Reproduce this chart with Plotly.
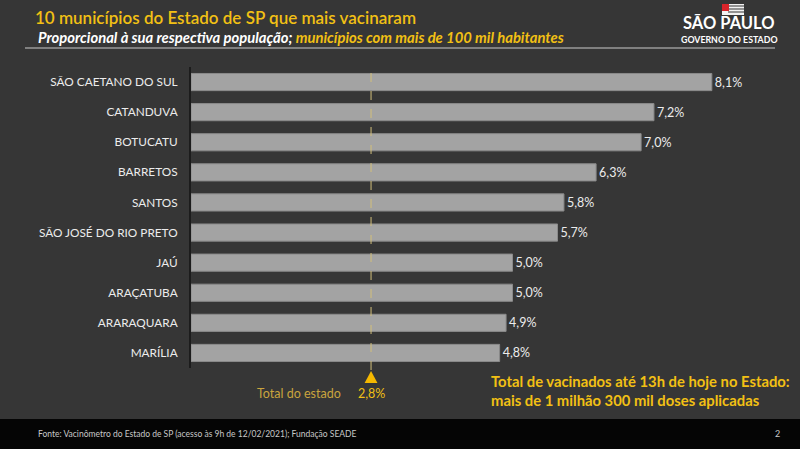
import plotly.graph_objects as go

municipios = ["SÃO CAETANO DO SUL", "CATANDUVA", "BOTUCATU", "BARRETOS", "SANTOS",
              "SÃO JOSÉ DO RIO PRETO", "JAÚ", "ARAÇATUBA", "ARARAQUARA", "MARÍLIA"]
percentuais = [8.1, 7.2, 7.0, 6.3, 5.8, 5.7, 5.0, 5.0, 4.9, 4.8]
total_estado = 2.8

W, H = 800, 449
ML, MR, MT, MB = 191, 20, 67, 81
PW, PH = W - ML - MR, H - MT - MB
X_MAX = PW / 64.3

def px(x):
    return (x - ML) / PW

def py(y):
    return (H - MB - y) / PH

def fmt(v):
    return f"{v:.1f}".replace(".", ",") + "%"

GOLD = "#f2c014"
FONT = "Lato"

fig = go.Figure()
fig.add_trace(go.Bar(
    y=municipios, x=percentuais, orientation="h",
    marker=dict(color="#a3a3a3", line=dict(color="#8a8a8a", width=1)),
    text=[fmt(v) for v in percentuais], textposition="outside",
    textfont=dict(color="#ececec", size=12.5, family=FONT),
    cliponaxis=False, hoverinfo="skip",
))

shapes = [
    # footer strip
    dict(type="rect", xref="paper", yref="paper", x0=px(0), x1=px(W), y0=py(449), y1=py(419),
         fillcolor="#050505", line=dict(width=0), layer="below"),
    # header rule
    dict(type="line", xref="paper", yref="paper", x0=px(25), x1=px(775), y0=py(48), y1=py(48),
         line=dict(color="#9a9a9a", width=1.5)),
    # state total dashed line
    dict(type="line", xref="x", yref="paper", x0=total_estado, x1=total_estado,
         y0=py(370), y1=1, line=dict(color="#d2bf7a", width=1, dash="dash")),
    # triangle marker
    dict(type="path", xref="x", yref="paper",
         path=f"M {total_estado - 0.1} {py(383)} L {total_estado + 0.1} {py(383)} L {total_estado} {py(371)} Z",
         fillcolor="#f5b800", line=dict(width=0)),
    # logo flag
    dict(type="rect", xref="paper", yref="paper", x0=px(722), x1=px(744), y0=py(15), y1=py(4),
         fillcolor="#f2f2f2", line=dict(width=0)),
]
for yy in [6, 9, 12]:
    shapes.append(dict(type="line", xref="paper", yref="paper", x0=px(728), x1=px(744),
                       y0=py(yy), y1=py(yy), line=dict(color="#333333", width=1)))
shapes.append(dict(type="rect", xref="paper", yref="paper", x0=px(722), x1=px(729), y0=py(11), y1=py(4),
                   fillcolor="#d8242a", line=dict(width=0)))

annotations = [
    dict(x=px(33), y=py(18), xref="paper", yref="paper", xanchor="left", yanchor="middle",
         text="10 municípios do Estado de SP que mais vacinaram",
         font=dict(color=GOLD, size=17, family=FONT, weight=600), showarrow=False),
    dict(x=px(36), y=py(37), xref="paper", yref="paper", xanchor="left", yanchor="middle",
         text="<b><i>Proporcional à sua respectiva população; </i></b><b><i><span style='color:#f2c014'>municípios com mais de 100 mil habitantes</span></i></b>",
         font=dict(color="#ffffff", size=14.8, family=FONT), showarrow=False),
    dict(x=px(729), y=py(23), xref="paper", yref="paper", xanchor="center", yanchor="middle",
         text="<b>SÃO PAULO</b>", font=dict(color="#ffffff", size=16.5, family=FONT), showarrow=False),
    dict(x=px(729), y=py(39.5), xref="paper", yref="paper", xanchor="center", yanchor="middle",
         text="<b>GOVERNO DO ESTADO</b>", font=dict(color="#ffffff", size=8.8, family=FONT), showarrow=False),
    dict(x=total_estado, y=py(393), xref="x", yref="paper", xanchor="center", yanchor="middle",
         text="2,8%", font=dict(color=GOLD, size=12.5, family=FONT), showarrow=False),
    dict(x=total_estado, y=py(393), xref="x", yref="paper", xanchor="right", yanchor="middle",
         text="Total do estado", font=dict(color="#c9a43e", size=12.5, family=FONT),
         showarrow=False, xshift=-28),
    dict(x=px(489), y=py(390), xref="paper", yref="paper", xanchor="left", yanchor="middle",
         align="left",
         text="<b>Total de vacinados até 13h de hoje no Estado:<br>mais de 1 milhão 300 mil doses aplicadas</b>",
         font=dict(color=GOLD, size=14.8, family=FONT), showarrow=False),
    dict(x=px(36), y=py(434), xref="paper", yref="paper", xanchor="left", yanchor="middle",
         text="Fonte: Vacinômetro do Estado de SP (acesso às 9h de 12/02/2021); Fundação SEADE",
         font=dict(color="#c8c8c8", size=8.5, family=FONT), showarrow=False),
    dict(x=px(777), y=py(434), xref="paper", yref="paper", xanchor="center", yanchor="middle",
         text="2", font=dict(color="#c8c8c8", size=9, family=FONT), showarrow=False),
]

fig.update_layout(
    width=W, height=H,
    margin=dict(l=ML, r=MR, t=MT, b=MB, pad=0),
    paper_bgcolor="#363636", plot_bgcolor="rgba(0,0,0,0)",
    bargap=0.43, showlegend=False,
    xaxis=dict(range=[0, X_MAX], visible=False, fixedrange=True),
    yaxis=dict(categoryorder="array", categoryarray=municipios, range=[9.5, -0.5],
               showline=True, linecolor="#1c1c1c", linewidth=2, showgrid=False, zeroline=False,
               ticks="", ticklabelstandoff=9, fixedrange=True,
               tickfont=dict(color="#ececec", size=11.8, family=FONT)),
    shapes=shapes, annotations=annotations,
    font=dict(family=FONT),
)

fig.write_html("out.html", config={"displayModeBar": False},
               post_script="document.body.style.margin='0';")
